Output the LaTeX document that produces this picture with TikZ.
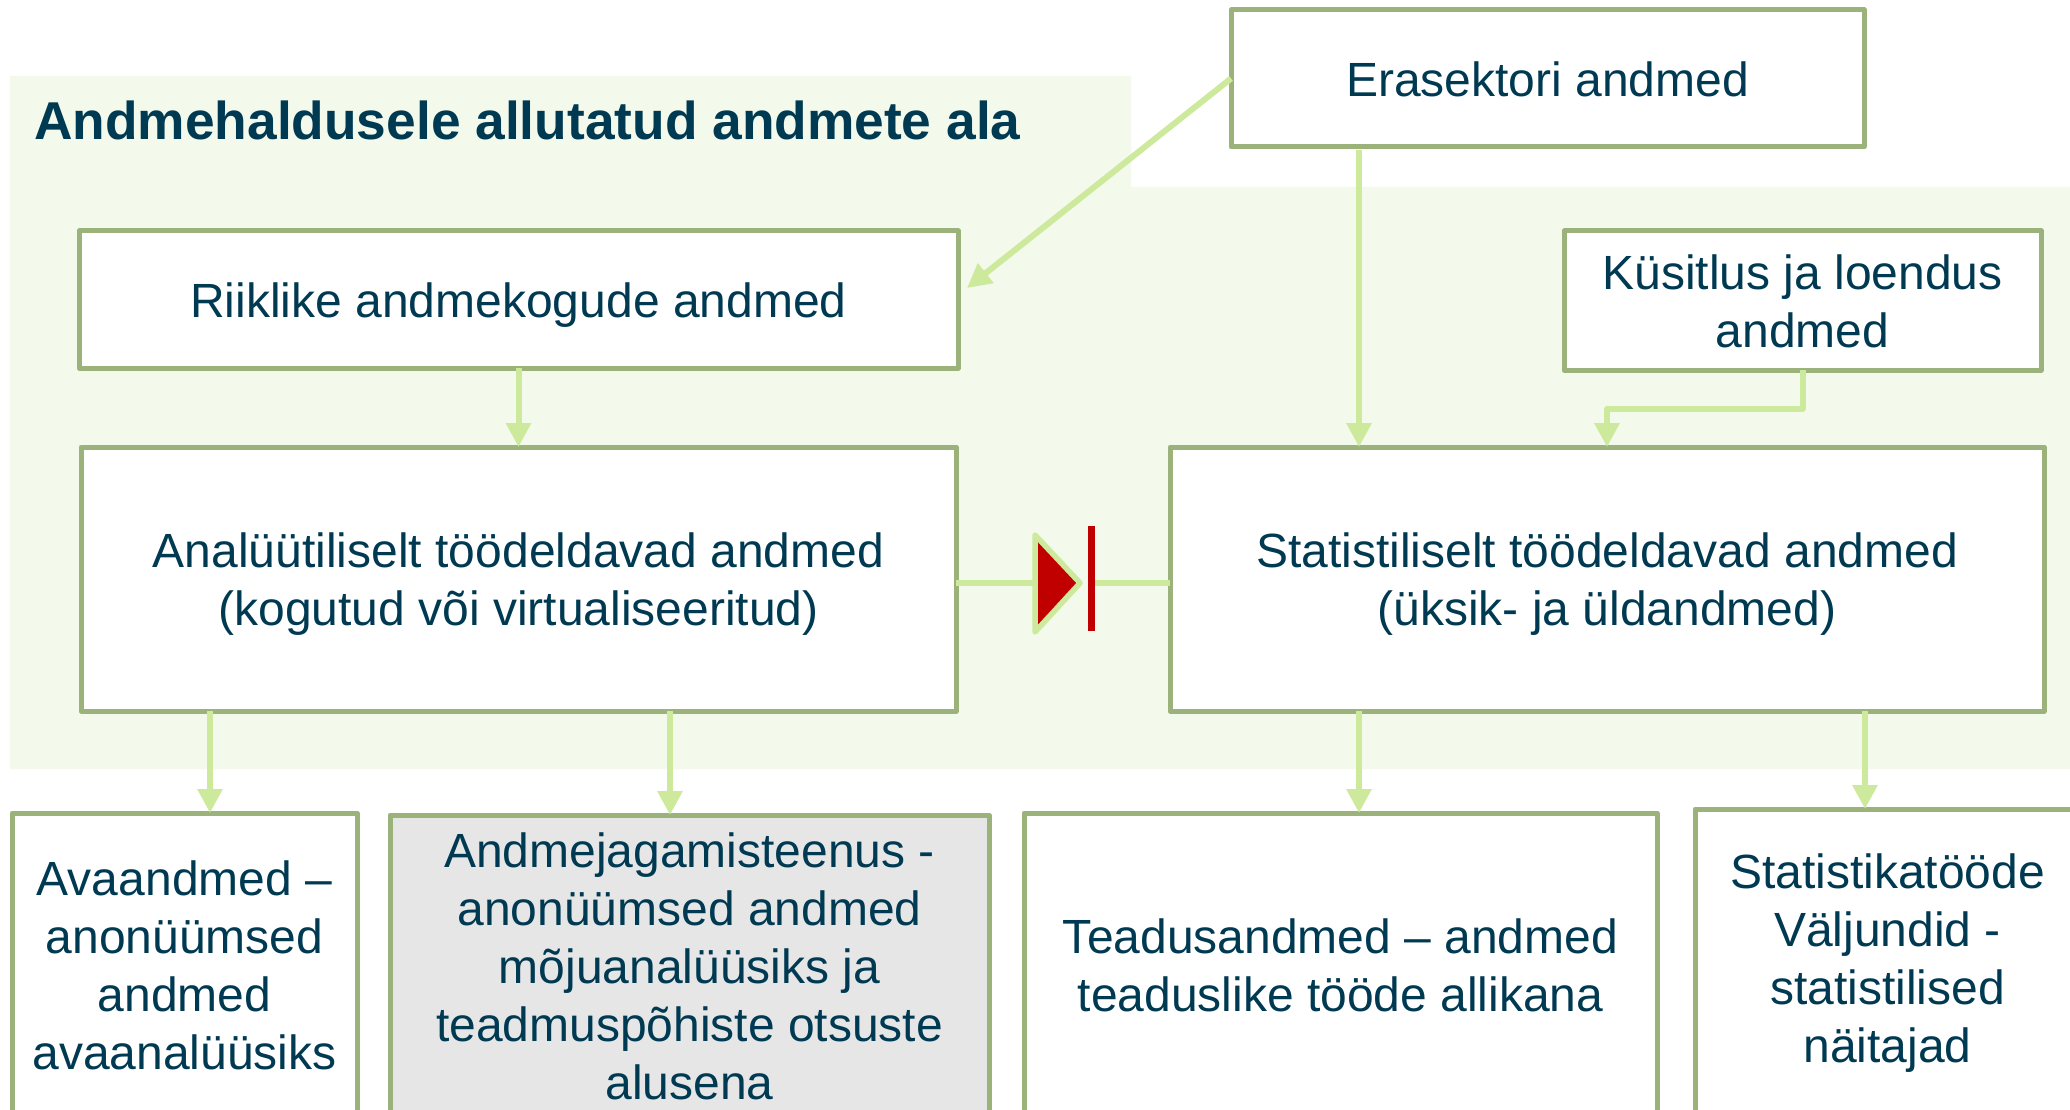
\documentclass[tikz,border=0pt]{standalone}
\usepackage{fontspec}
\setmainfont{Liberation Sans}
\usetikzlibrary{arrows.meta,calc}
\definecolor{bgg}{HTML}{F3F9EB}
\definecolor{bord}{HTML}{9BB27A}
\definecolor{arrc}{HTML}{CDE99B}
\definecolor{txt}{HTML}{003A52}
\definecolor{dred}{HTML}{C00000}
\definecolor{gfill}{HTML}{E6E6E6}
\newcommand{\topstrut}{\rule{0pt}{45pt}}
\newcommand{\smallstrut}{\rule{0pt}{37pt}}
\begin{document}
\begin{tikzpicture}[x=1pt,y=-1pt,
  box/.style={draw=bord, line width=5pt, fill=white, inner sep=0pt, outer sep=0pt,
    align=center, text=txt, font=\fontsize{48}{58}\selectfont, anchor=north west, line join=round},
  conn/.style={draw=arrc, line width=6pt, -{Triangle[width=24pt,length=24pt]}, line join=round},
  wire/.style={draw=arrc, line width=6pt}]
\useasboundingbox (0,0) rectangle (2070,1110);
\clip (0,0) rectangle (2070,1110);
% shaded area
\fill[bgg] (10,76) -- (1131,76) -- (1131,187) -- (2070,187) -- (2070,769) -- (10,769) -- cycle;
\node[anchor=base west, text=txt, inner sep=0pt, font=\bfseries\fontsize{53.3}{60}\selectfont] (title) at (34,140) {Andmehaldusele allutatud andmete ala};
% boxes
\node[box, minimum width=633pt, minimum height=137pt] (era) at (1231,10) {\smallstrut Erasektori andmed};
\node[box, minimum width=879pt, minimum height=137pt] (riik) at (79,231) {\topstrut Riiklike andmekogude andmed};
\node[box, minimum width=477pt, minimum height=139pt] (kys) at (1564,231) {\smallstrut Küsitlus ja loendus\\andmed};
\node[box, minimum width=875pt, minimum height=264pt] (ana) at (81,447) {\topstrut Analüütiliselt töödeldavad andmed\\(kogutud või virtualiseeritud)};
\node[box, minimum width=874pt, minimum height=264pt] (stat) at (1170,447) {\topstrut Statistiliselt töödeldavad andmed\\(üksik- ja üldandmed)};
\node[box, minimum width=345pt, minimum height=304pt] (ava) at (12,813) {Avaandmed –\\anonüümsed\\andmed\\avaanalüüsiks};
\node[box, fill=gfill, minimum width=599pt, minimum height=302pt] (jag) at (390,815) {Andmejagamisteenus -\\anonüümsed andmed\\mõjuanalüüsiks ja\\teadmuspõhiste otsuste\\alusena};
\node[box, minimum width=633pt, minimum height=304pt] (tea) at (1024,813) {Teadusandmed – andmed\\teaduslike tööde allikana};
\node[box, minimum width=385pt, minimum height=308pt] (sto) at (1695,809) {Statistikatööde\\Väljundid -\\statistilised\\näitajad};
% connectors
\coordinate (dtip) at (967,288);
\draw[conn] (era.west) -- (dtip);
\coordinate (e1) at ($(era.south west)+(128,3)$);
\draw[conn] (e1) -- (e1 |- stat.north);
\draw[conn] (kys.south) |- ($(stat.north)+(0,-38)$) -- (stat.north);
\draw[conn] (riik.south) -- (ana.north);
\coordinate (a1) at ($(ana.south west)+(129,0)$);
\draw[conn] (a1) -- (a1 |- ava.north);
\coordinate (a2) at ($(ana.south west)+(589,0)$);
\draw[conn] (a2) -- (a2 |- jag.north);
\coordinate (s1) at ($(stat.south west)+(189,0)$);
\draw[conn] (s1) -- (s1 |- tea.north);
\coordinate (s2) at ($(stat.south west)+(695,0)$);
\draw[conn] (s2) -- (s2 |- sto.north);
% diode
\coordinate (dl) at (1035,583);
\coordinate (dr) at (1095,583);
\draw[wire] (ana.east |- dl) -- (dl);
\draw[wire] (dr) -- (stat.west |- dr);
\draw[draw=arrc, line width=5.5pt, fill=dred, line join=round] (1035,535) -- (1080,583) -- (1035,632) -- cycle;
\fill[dred] (1088,526) rectangle (1095,631);
\end{tikzpicture}
\end{document}
